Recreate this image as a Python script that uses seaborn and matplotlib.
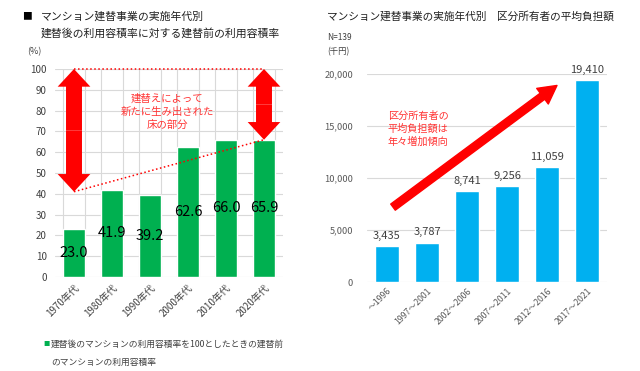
import numpy as np
import pandas as pd
import matplotlib
matplotlib.use("Agg")
import matplotlib.pyplot as plt
import seaborn as sns

# === Data
decades = ["1970年代", "1980年代", "1990年代", "2000年代", "2010年代", "2020年代"]
ratio_before = [23.0, 41.9, 39.2, 62.6, 66.0, 65.9]

periods = ["～1996", "1997～2001", "2002～2006", "2007～2011", "2012～2016", "2017～2021"]
burden = [3435, 3787, 8741, 9256, 11059, 19410]

# annotation levels on the left chart (arrow ends, %)
arrow_left = (41, 100)
arrow_right = (66, 100)

# === Style
sns.set_theme(style="white")
plt.rcParams["font.family"] = ["Noto Sans CJK JP", "DejaVu Sans"]

GREEN = "#00B050"
BLUE = "#00B0F0"
RED = "#FF0000"
TXT = "#404040"
GRID = "#D9D9D9"

W, H = 640, 371
fig = plt.figure(figsize=(W / 100, H / 100), dpi=100)


def px(x, y):
    return x / W, 1 - y / H


# === Left chart
axL = fig.add_axes([55 / W, 1 - 277 / H, 228 / W, 208 / H])
df_l = pd.DataFrame({"decade": decades, "ratio": ratio_before})
df_l["full"] = 100
sns.barplot(data=df_l, x="decade", y="full", ax=axL, fill=False,
            edgecolor=GRID, linewidth=0.8, width=0.6, zorder=1)
sns.barplot(data=df_l, x="decade", y="ratio", ax=axL, color=GREEN,
            saturation=1, width=0.6, zorder=2)
axL.set_ylim(0, 100)
axL.set_xlim(-0.5, 5.5)
axL.set_yticks(np.arange(0, 101, 10))
axL.yaxis.grid(True, color=GRID, linewidth=0.8, zorder=0)
axL.set_axisbelow(True)
for s in axL.spines.values():
    s.set_visible(False)
axL.set_xlabel("")
axL.set_ylabel("")
axL.tick_params(axis="y", labelsize=7, colors=TXT, length=0, pad=6)
axL.tick_params(axis="x", labelsize=7, colors=TXT, length=0, pad=4)
plt.setp(axL.get_xticklabels(), rotation=45, ha="right", rotation_mode="anchor")

for i, v in enumerate(ratio_before):
    axL.text(i, v / 2, f"{v:.1f}", ha="center", va="center", fontsize=10.5,
             color="black", zorder=5)

# double-headed red arrows
for xi, (lo, hi) in [(0, arrow_left), (5, arrow_right)]:
    mid = (lo + hi) / 2
    for end in (lo, hi):
        axL.arrow(xi, mid, 0, end - mid, width=0.42, head_width=0.86,
                  head_length=8.5, length_includes_head=True, color=RED,
                  lw=0, zorder=6, clip_on=False)

axL.plot([0, 5], [arrow_left[0], arrow_right[0]], ls=":", color=RED, lw=1.1, zorder=4)
axL.plot([0, 5], [arrow_left[1], arrow_right[1]], ls=":", color=RED, lw=1.1, zorder=4,
         clip_on=False)
axL.text(2.45, 79.5, "建替えによって\n新たに生み出された\n床の部分", ha="center", va="center",
         fontsize=7.5, color="#FF3333", linespacing=1.35, zorder=7)

fig.text(*px(22, 16), "■", fontsize=7, color="black", va="center")
fig.text(*px(41, 16), "マンション建替事業の実施年代別", fontsize=7.8, color="#202020", va="center")
fig.text(*px(41, 33), "建替後の利用容積率に対する建替前の利用容積率", fontsize=7.8, color="#202020",
         va="center")
fig.text(*px(27, 52), "(%)", fontsize=6.5, color=TXT, va="center")

fig.text(*px(43, 344), "■", fontsize=4.5, color=GREEN, va="center")
fig.text(*px(51, 344), "建替後のマンションの利用容積率を100としたときの建替前", fontsize=6.3,
         color=TXT, va="center")
fig.text(*px(51, 362), "のマンションの利用容積率", fontsize=6.3, color=TXT, va="center")

# === Right chart
axR = fig.add_axes([367 / W, 1 - 282 / H, 240 / W, 208 / H])
df_r = pd.DataFrame({"period": periods, "burden": burden})
sns.barplot(data=df_r, x="period", y="burden", ax=axR, color=BLUE,
            saturation=1, width=0.6, zorder=2)
axR.set_ylim(0, 20000)
axR.set_xlim(-0.5, 5.5)
axR.set_yticks(np.arange(0, 20001, 5000))
axR.set_yticklabels([f"{t:,}" for t in range(0, 20001, 5000)])
axR.yaxis.grid(True, color=GRID, linewidth=0.8, zorder=0)
axR.set_axisbelow(True)
for s in axR.spines.values():
    s.set_visible(False)
axR.set_xlabel("")
axR.set_ylabel("")
axR.tick_params(axis="y", labelsize=6.7, colors="#595959", length=0, pad=10)
axR.tick_params(axis="x", labelsize=6.3, colors="#595959", length=0, pad=3)
plt.setp(axR.get_xticklabels(), rotation=45, ha="right", rotation_mode="anchor")

for i, v in enumerate(burden):
    axR.text(i, v + 500, f"{v:,}", ha="center", va="bottom", fontsize=8, color=TXT)

axR.annotate("", xy=(4.25, 18900), xytext=(0.15, 7200),
             arrowprops=dict(facecolor=RED, edgecolor=RED, width=5.5,
                             headwidth=14, headlength=13, shrink=0),
             annotation_clip=False, zorder=6)
axR.text(0.78, 14700, "区分所有者の\n平均負担額は\n年々増加傾向", ha="center", va="center",
         fontsize=7.3, color="#FF3333", linespacing=1.35, zorder=7)

fig.text(*px(327, 16), "マンション建替事業の実施年代別　区分所有者の平均負担額", fontsize=7.7,
         color="#202020", va="center")
fig.text(*px(327, 37), "N=139", fontsize=6, color=TXT, va="center")
fig.text(*px(327, 52), "(千円)", fontsize=6, color=TXT, va="center")

fig.savefig("out.png", dpi=100, facecolor="white")
